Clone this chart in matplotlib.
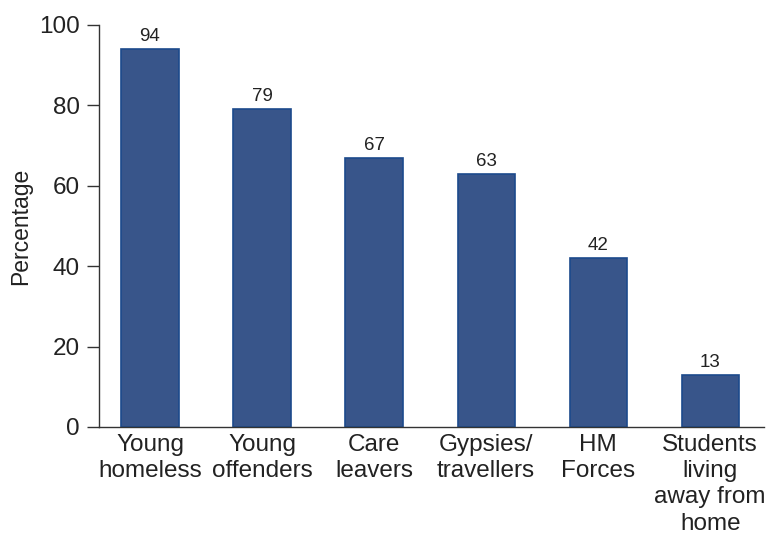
import matplotlib.pyplot as plt

categories = ["Young\nhomeless", "Young\noffenders", "Care\nleavers",
              "Gypsies/\ntravellers", "HM\nForces", "Students\nliving\naway from\nhome"]
values = [94, 79, 67, 63, 42, 13]
yticks = [0, 20, 40, 60, 80, 100]

plt.rcParams['font.family'] = ['Liberation Sans', 'DejaVu Sans']

fig = plt.figure(figsize=(7.69, 5.34), dpi=100)
ax = fig.add_axes([0.1287, 0.2004, 0.8648, 0.7528])

x = range(len(values))
ax.bar(x, values, width=0.51, color="#38558a", edgecolor="#1c4a8c", linewidth=1.2)
for xi, v in zip(x, values):
    ax.text(xi, v + 2, str(v), ha="center", va="baseline", fontsize=13.5, color="#222222")

ax.set_xlim(-0.455, 5.48)
ax.set_ylim(0, 100)
ax.set_yticks(yticks)
ax.set_xticks(list(x))
ax.set_xticklabels(categories, fontsize=17.5, color="#222222", linespacing=1.25)
ax.tick_params(axis="x", length=0, pad=5)
ax.tick_params(axis="y", length=9, width=1, color="#333333", labelsize=17.5,
               labelcolor="#222222", pad=5)
ax.set_ylabel("Percentage", fontsize=16.5, color="#222222", labelpad=5)

for side in ("top", "right"):
    ax.spines[side].set_visible(False)
for side in ("left", "bottom"):
    ax.spines[side].set_color("#333333")
    ax.spines[side].set_linewidth(1)

fig.savefig("out.png", dpi=100)
